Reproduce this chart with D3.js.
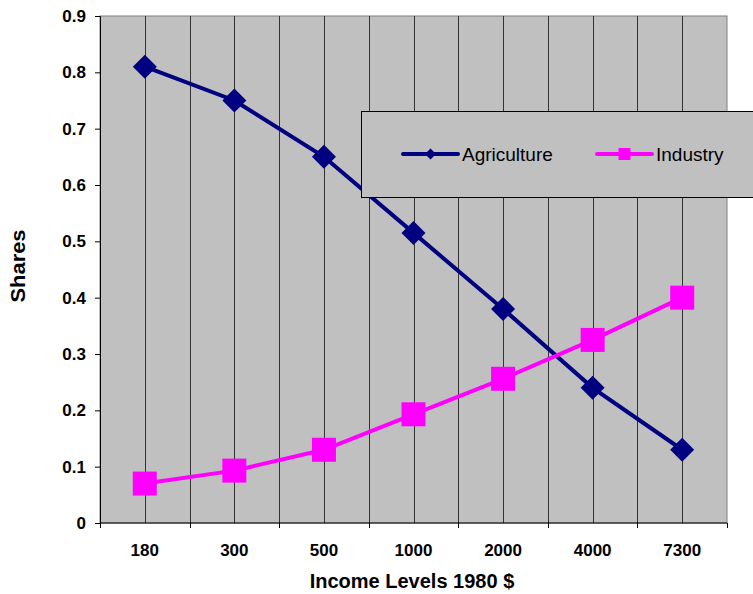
<!DOCTYPE html>
<html>
<head>
<meta charset="utf-8">
<script src="https://cdn.jsdelivr.net/npm/d3@7"></script>
<style>
  body { margin: 0; background: #fff; }
  text { font-family: Arial, "Liberation Sans", sans-serif; }
</style>
</head>
<body>
<div id="chart"></div>
<script>
// chart data
const incomeLevels = ["180", "300", "500", "1000", "2000", "4000", "7300"];
const agriculture = [0.81, 0.75, 0.65, 0.515, 0.38, 0.24, 0.13];
const industry = [0.07, 0.093, 0.13, 0.193, 0.256, 0.325, 0.40];
const yTicks = [0, 0.1, 0.2, 0.3, 0.4, 0.5, 0.6, 0.7, 0.8, 0.9];

let width = 753,
    height = 594,
    margin = ({ top: 16, right: 26, bottom: 71, left: 100 });

const svg = d3.select("#chart")
  .append("svg")
  .attr("width", width)
  .attr("height", height);

let x = d3.scaleBand()
  .domain(incomeLevels)
  .range([margin.left, width - margin.right]);

let y = d3.scaleLinear()
  .domain([0, 0.9])
  .range([height - margin.bottom, margin.top]);

// plot background
svg.append("rect")
  .attr("x", margin.left)
  .attr("y", margin.top)
  .attr("width", width - margin.left - margin.right)
  .attr("height", height - margin.top - margin.bottom)
  .attr("fill", "#c0c0c0")
  .attr("stroke", "#808080");

// vertical gridlines: at category centers and band boundaries
const gridX = [];
incomeLevels.forEach((d, i) => {
  if (i > 0) gridX.push(x(d));
  gridX.push(x(d) + x.bandwidth() / 2);
});
svg.append("g")
  .selectAll("line")
  .data(gridX)
  .join("line")
  .attr("x1", d => Math.round(d) + 0.5)
  .attr("x2", d => Math.round(d) + 0.5)
  .attr("y1", margin.top)
  .attr("y2", height - margin.bottom)
  .attr("stroke", "#333")
  .attr("stroke-width", 1);

// y axis
const yAxis = svg.append("g")
  .attr("transform", `translate(${margin.left},0)`)
  .call(d3.axisLeft(y).tickValues(yTicks).tickFormat(d => d === 0 ? "0" : d3.format(".1f")(d)).tickSize(5).tickPadding(9));
yAxis.selectAll("text").attr("font-size", 17).attr("font-weight", "bold").attr("fill", "#000");
yAxis.selectAll("line, path").attr("stroke", "#000");

// x axis: ticks between categories
const xBounds = incomeLevels.map(d => x(d)).concat([x.range()[1]]);
const xAxisG = svg.append("g")
  .attr("transform", `translate(0,${height - margin.bottom})`);
xAxisG.append("line")
  .attr("x1", margin.left).attr("x2", width - margin.right)
  .attr("stroke", "#000");
xAxisG.selectAll(".tick")
  .data(xBounds)
  .join("line")
  .attr("class", "tick")
  .attr("x1", d => Math.round(d) + 0.5)
  .attr("x2", d => Math.round(d) + 0.5)
  .attr("y1", 0).attr("y2", 5)
  .attr("stroke", "#000");
xAxisG.selectAll(".lbl")
  .data(incomeLevels)
  .join("text")
  .attr("class", "lbl")
  .attr("x", d => x(d) + x.bandwidth() / 2)
  .attr("y", 33)
  .attr("text-anchor", "middle")
  .attr("font-size", 17)
  .attr("font-weight", "bold")
  .text(d => d);

// axis titles
svg.append("text")
  .attr("transform", `translate(25,266) rotate(-90)`)
  .attr("text-anchor", "middle")
  .attr("font-size", 20)
  .attr("font-weight", "bold")
  .attr("textLength", 73)
  .attr("lengthAdjust", "spacingAndGlyphs")
  .text("Shares");
svg.append("text")
  .attr("x", 412)
  .attr("y", 588)
  .attr("text-anchor", "middle")
  .attr("font-size", 20)
  .attr("font-weight", "bold")
  .text("Income Levels 1980 $");

const cx = d => x(d) + x.bandwidth() / 2;
const line = d3.line().x(d => cx(d[0])).y(d => y(d[1]));

const series = [
  { name: "Agriculture", values: agriculture, color: "#000080", shape: "diamond" },
  { name: "Industry", values: industry, color: "#ff00ff", shape: "square" }
];

function marker(sel, shape, s) {
  if (shape === "diamond") {
    sel.append("path").attr("d", `M0,${-s}L${s},0L0,${s}L${-s},0Z`);
  } else {
    sel.append("rect").attr("x", -s).attr("y", -s).attr("width", 2 * s).attr("height", 2 * s);
  }
}

series.forEach(s => {
  const pts = incomeLevels.map((c, i) => [c, s.values[i]]);
  svg.append("path")
    .datum(pts)
    .attr("d", line)
    .attr("fill", "none")
    .attr("stroke", s.color)
    .attr("stroke-width", 4);
  svg.append("g")
    .selectAll("g")
    .data(pts)
    .join("g")
    .attr("transform", d => `translate(${cx(d[0])},${y(d[1])})`)
    .attr("fill", s.color)
    .each(function() { marker(d3.select(this), s.shape, 12); });
});

// legend
const legend = svg.append("g");
legend.append("rect")
  .attr("x", 361.5).attr("y", 111.5)
  .attr("width", 400).attr("height", 86)
  .attr("fill", "#c0c0c0")
  .attr("stroke", "#000");
const legendX = [403, 597];
series.forEach((s, i) => {
  const g = legend.append("g").attr("transform", `translate(${legendX[i]},154)`);
  g.append("line")
    .attr("x1", 0).attr("x2", 55)
    .attr("stroke", s.color).attr("stroke-width", 4).attr("stroke-linecap", "round");
  const m = g.append("g").attr("transform", "translate(27.5,0)").attr("fill", s.color);
  marker(m, s.shape, s.shape === "diamond" ? 5.5 : 6);
  g.append("text")
    .attr("x", 59).attr("y", 7)
    .attr("font-size", 19)
    .text(s.name);
});
</script>
</body>
</html>
